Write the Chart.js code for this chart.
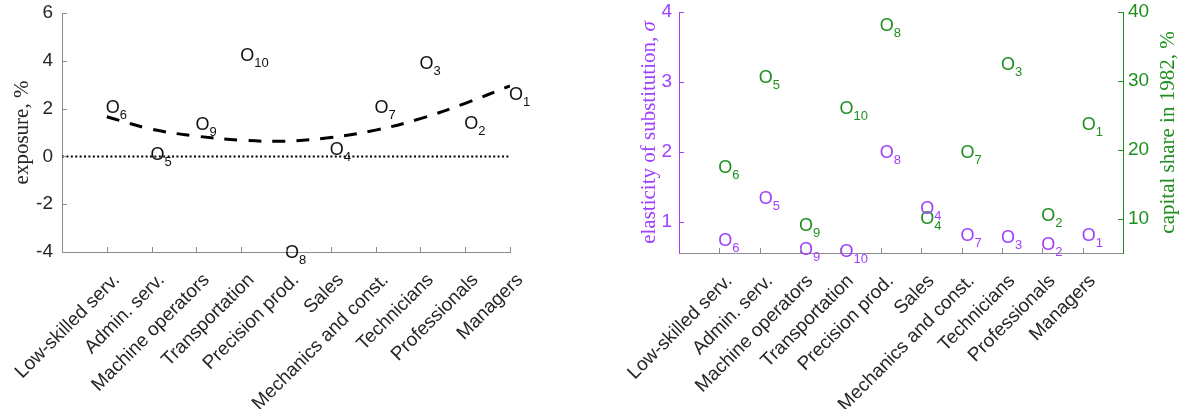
<!DOCTYPE html>
<html>
<head>
<meta charset="utf-8">
<script src="https://cdn.jsdelivr.net/npm/chart.js@4.4.1/dist/chart.umd.min.js"></script>
<style>
  html, body { margin: 0; padding: 0; background: #fff; }
  body { width: 1184px; height: 409px; position: relative; overflow: hidden; }
  .panel { position: absolute; top: 0; height: 409px; }
  #panelExposure { left: 0; width: 590px; }
  #panelSigma { left: 590px; width: 594px; }
  canvas { display: block; }
</style>
</head>
<body>
<div class="panel" id="panelExposure"><canvas id="chartExposure" width="590" height="409"></canvas></div>
<div class="panel" id="panelSigma"><canvas id="chartSigma" width="594" height="409"></canvas></div>
<script>
/* ============================================================
   Occupation exposure / elasticity of substitution panels
   ============================================================ */

// ── Data ──
const OCCUPATIONS = [
  'Low-skilled serv.', 'Admin. serv.', 'Machine operators', 'Transportation',
  'Precision prod.', 'Sales', 'Mechanics and const.', 'Technicians',
  'Professionals', 'Managers'
];
// occupation index printed as O_k next to each mark
const OCC_INDEX = [6, 5, 9, 10, 8, 4, 7, 3, 2, 1];

const EXPOSURE = [2.10, 0.12, 1.37, 4.28, -3.97, 0.35, 2.10, 3.93, 1.40, 2.62];
const EXPOSURE_FIT = [1.66, 1.14, 0.85, 0.68, 0.64, 0.79, 1.10, 1.58, 2.22, 2.95];
const ZERO_LINE = [0, 0];                  // y at x = 0 and x = 10

const SIGMA = [0.75, 1.35, 0.61, 0.58, 2.01, 1.20, 0.82, 0.79, 0.68, 0.81];
const CAPITAL_SHARE_1982 = [17.5, 30.6, 9.2, 26.2, 38.2, 10.2, 19.7, 32.5, 10.6, 23.8];

const EXPOSURE_TICKS = [-4, -2, 0, 2, 4, 6];
const SIGMA_TICKS = [1, 2, 3, 4];
const CAPITAL_TICKS = [10, 20, 30, 40];

// ── Theme ──
const AXIS_GRAY = '#8c8c8c';
const TEXT_DARK = '#262626';
const PURPLE = '#a040ff';
const GREEN = '#1f8f1f';
const SANS = "'Liberation Sans', Arial, sans-serif";
const SERIF = "'Liberation Serif', 'Times New Roman', serif";

Chart.defaults.font.family = SANS;
Chart.defaults.font.size = 18;
Chart.defaults.animation = false;

// ── Plugins ──

// MATLAB-like tick marks pointing into the plot
const inwardTicks = {
  id: 'inwardTicks',
  afterDraw(chart) {
    const ctx = chart.ctx;
    const len = 5;
    Object.values(chart.scales).forEach(scale => {
      ctx.save();
      ctx.strokeStyle = scale.options.border.color;
      ctx.lineWidth = 1;
      ctx.beginPath();
      scale.ticks.forEach(t => {
        const p = Math.round(scale.getPixelForValue(t.value)) + 0.5;
        if (scale.position === 'bottom') {
          ctx.moveTo(p, scale.top); ctx.lineTo(p, scale.top - len);
        } else if (scale.position === 'left') {
          ctx.moveTo(scale.right, p); ctx.lineTo(scale.right + len, p);
        } else {
          ctx.moveTo(scale.left, p); ctx.lineTo(scale.left - len, p);
        }
      });
      ctx.stroke();
      ctx.restore();
    });
  }
};

// "O" + subscript index written at every point of a dataset
const occupationLabels = {
  id: 'occupationLabels',
  afterDatasetsDraw(chart) {
    const ctx = chart.ctx;
    chart.data.datasets.forEach((ds, di) => {
      if (!ds.occIndex) return;
      const meta = chart.getDatasetMeta(di);
      ctx.save();
      ctx.fillStyle = ds.labelColor;
      ctx.textAlign = 'left';
      ctx.textBaseline = 'alphabetic';
      meta.data.forEach((pt, i) => {
        const base = pt.y + 6.5;
        ctx.font = '18px ' + SANS;
        ctx.fillText('O', pt.x - 1, base);
        const w = ctx.measureText('O').width;
        ctx.font = '13px ' + SANS;
        ctx.fillText(String(ds.occIndex[i]), pt.x - 1 + w, base + 6);
      });
      ctx.restore();
    });
  }
};

// Vertical axis titles (serif, read bottom to top on both sides)
const axisTitles = {
  id: 'axisTitles',
  afterDraw(chart, args, opts) {
    const { ctx, chartArea } = chart;
    const cy = (chartArea.top + chartArea.bottom) / 2;
    (opts.items || []).forEach(item => {
      const x = item.side === 'left' ? chartArea.left - item.offset : chartArea.right + item.offset;
      const fonts = item.parts.map(p => (p.italic ? 'italic ' : '') + '21px ' + SERIF);
      ctx.save();
      ctx.translate(x, cy);
      ctx.rotate(-Math.PI / 2);
      ctx.fillStyle = item.color;
      ctx.textAlign = 'left';
      ctx.textBaseline = 'middle';
      let total = 0;
      const widths = item.parts.map((p, k) => {
        ctx.font = fonts[k];
        const w = ctx.measureText(p.text).width;
        total += w;
        return w;
      });
      let cx = -total / 2;
      item.parts.forEach((p, k) => {
        ctx.font = fonts[k];
        ctx.fillText(p.text, cx, 0);
        cx += widths[k];
      });
      ctx.restore();
    });
  }
};

// ── Shared scale pieces ──
const categoryAxis = (max, height) => ({
  type: 'linear',
  position: 'bottom',
  min: 0,
  max,
  afterBuildTicks: s => { s.ticks = OCCUPATIONS.map((_, i) => ({ value: i + 1 })); },
  afterFit: s => { s.height = height; s.paddingLeft = 0; s.paddingRight = 0; },
  grid: { display: false, drawTicks: false },
  border: { display: true, color: AXIS_GRAY, width: 1 },
  ticks: {
    autoSkip: false,
    minRotation: 45,
    maxRotation: 45,
    padding: 17,
    labelOffset: 10,
    color: TEXT_DARK,
    font: { size: 19 },
    callback: v => OCCUPATIONS[v - 1] || ''
  }
});

const valueAxis = (position, min, max, tickList, color, width, labelColor, pad) => ({
  type: 'linear',
  position,
  min,
  max,
  afterBuildTicks: s => { s.ticks = tickList.map(v => ({ value: v })); },
  afterFit: s => { s.width = width; s.paddingTop = 0; s.paddingBottom = 0; },
  grid: { display: false, drawTicks: false },
  border: { display: true, color, width: 1 },
  ticks: { color: labelColor, padding: pad, font: { size: 19 } }
});

const toXY = arr => arr.map((y, i) => ({ x: i + 1, y }));

// ── Left panel: exposure ──
new Chart(document.getElementById('chartExposure'), {
  type: 'scatter',
  data: {
    datasets: [
      {
        label: 'zero',
        data: [{ x: 0, y: ZERO_LINE[0] }, { x: 10, y: ZERO_LINE[1] }],
        showLine: true,
        borderColor: '#000',
        borderWidth: 2,
        borderDash: [2, 2.4],
        pointRadius: 0
      },
      {
        label: 'fit',
        data: toXY(EXPOSURE_FIT),
        showLine: true,
        tension: 0.4,
        borderColor: '#000',
        borderWidth: 3,
        borderDash: [13, 11],
        pointRadius: 0
      },
      {
        label: 'exposure',
        data: toXY(EXPOSURE),
        pointRadius: 0,
        occIndex: OCC_INDEX,
        labelColor: '#111'
      }
    ]
  },
  options: {
    responsive: false,
    devicePixelRatio: 1,
    layout: { padding: { left: 0, top: 13, right: 80, bottom: 0 } },
    plugins: {
      legend: { display: false },
      tooltip: { enabled: false },
      axisTitles: {
        items: [{ side: 'left', offset: 40, color: TEXT_DARK, parts: [{ text: 'exposure, %' }] }]
      }
    },
    scales: {
      x: categoryAxis(10, 157),
      y: valueAxis('left', -4, 6, EXPOSURE_TICKS, AXIS_GRAY, 62, TEXT_DARK, 9)
    }
  },
  plugins: [occupationLabels, inwardTicks, axisTitles]
});

// ── Right panel: sigma and 1982 capital share ──
new Chart(document.getElementById('chartSigma'), {
  type: 'scatter',
  data: {
    datasets: [
      {
        label: 'capital share',
        data: toXY(CAPITAL_SHARE_1982),
        yAxisID: 'y2',
        pointRadius: 0,
        occIndex: OCC_INDEX,
        labelColor: GREEN
      },
      {
        label: 'sigma',
        data: toXY(SIGMA),
        yAxisID: 'y',
        pointRadius: 0,
        occIndex: OCC_INDEX,
        labelColor: PURPLE
      }
    ]
  },
  options: {
    responsive: false,
    devicePixelRatio: 1,
    layout: { padding: { left: 0, top: 12, right: 0, bottom: 0 } },
    plugins: {
      legend: { display: false },
      tooltip: { enabled: false },
      axisTitles: {
        items: [
          { side: 'left', offset: 30, color: PURPLE,
            parts: [{ text: 'elasticity of substitution, ' }, { text: 'σ', italic: true }] },
          { side: 'right', offset: 45, color: GREEN, parts: [{ text: 'capital share in 1982, %' }] }
        ]
      }
    },
    scales: {
      x: categoryAxis(11, 156),
      y: valueAxis('left', 0.55, 4, SIGMA_TICKS, PURPLE, 89, PURPLE, 7),
      y2: valueAxis('right', 5, 40, CAPITAL_TICKS, GREEN, 61, GREEN, 5)
    }
  },
  plugins: [occupationLabels, inwardTicks, axisTitles]
});
</script>
</body>
</html>
